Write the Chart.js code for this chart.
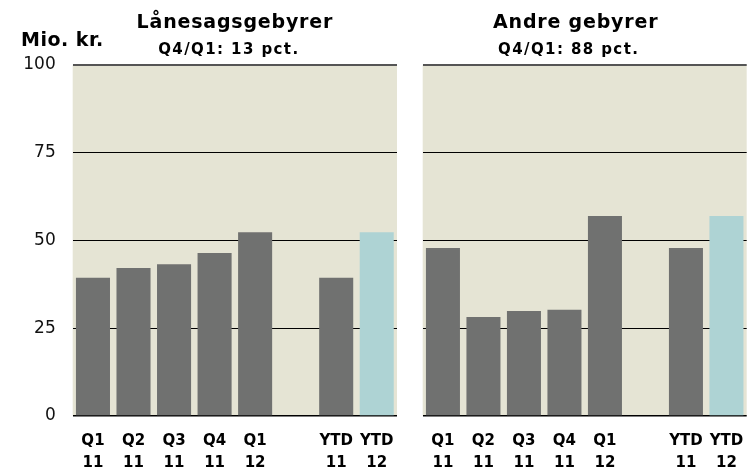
<!DOCTYPE html>
<html>
<head>
<meta charset="utf-8">
<script src="https://cdn.jsdelivr.net/npm/chart.js@4/dist/chart.umd.min.js"></script>
<style>
    body { margin: 0; background: #fff; overflow: hidden; }
    #wrap { position: relative; width: 751px; height: 472px; }
    #leftBox { position: absolute; left: 0; top: 0; }
    #rightBox { position: absolute; left: 400px; top: 0; }
    canvas { display: block; }
</style>
</head>
<body>
<div id="wrap">
    <div id="leftBox"><canvas id="leftChart" width="400" height="472"></canvas></div>
    <div id="rightBox"><canvas id="rightChart" width="351" height="472"></canvas></div>
</div>
<script>
const categories = [["Q1", "11"], ["Q2", "11"], ["Q3", "11"], ["Q4", "11"], ["Q1", "12"], "", ["YTD", "11"], ["YTD", "12"]];
const laanesagsValues = [39.3, 42.1, 43.2, 46.4, 52.3, null, 39.3, 52.3];
const andreValues = [47.8, 28.2, 29.9, 30.2, 56.9, null, 47.8, 56.9];
const yTicks = [0, 25, 50, 75, 100];
const unitLabel = "Mio. kr.";
const leftTitle = "Lånesagsgebyrer";
const leftSubtitle = "Q4/Q1: 13 pct.";
const rightTitle = "Andre gebyrer";
const rightSubtitle = "Q4/Q1: 88 pct.";

const FONT = "'DejaVu Sans', Verdana, sans-serif";
const barColours = ["#707170", "#707170", "#707170", "#707170", "#707170", "#707170", "#707170", "#aed3d4"];

// beige plot background + titles drawn around the chart area
const panelPlugin = {
    id: "panel",
    beforeDraw(chart, args, opts) {
        const { ctx, chartArea: a } = chart;
        ctx.save();
        ctx.fillStyle = "#e5e4d4";
        ctx.fillRect(a.left, a.top, a.right - a.left, a.bottom - a.top);
        ctx.restore();
    },
    afterDraw(chart, args, opts) {
        const { ctx, chartArea: a } = chart;
        const mid = (a.left + a.right) / 2;
        ctx.save();
        ctx.fillStyle = "#000";
        ctx.textBaseline = "middle";
        ctx.textAlign = "center";

        ctx.font = "bold 19px " + FONT;
        ctx.letterSpacing = "0.8px";
        ctx.fillText(opts.title, mid + opts.titleShift, 23);

        ctx.font = "bold 15px " + FONT;
        ctx.letterSpacing = "1.4px";
        ctx.fillText(opts.subtitle, mid + opts.subShift, 50);

        if (opts.unit) {
            ctx.textAlign = "left";
            ctx.font = "bold 19px " + FONT;
            ctx.letterSpacing = "0.5px";
            ctx.fillText(opts.unit, 21, 41);
        }
        ctx.restore();
    }
};

function makeChart(id, values, opts) {
    const ctx = document.getElementById(id).getContext("2d");
    return new Chart(ctx, {
        type: "bar",
        data: {
            labels: categories,
            datasets: [{
                data: values,
                backgroundColor: barColours,
                barPercentage: 0.84,
                categoryPercentage: 1
            }]
        },
        options: {
            responsive: false,
            animation: false,
            layout: { padding: { top: 64.5, right: opts.padRight, left: 0, bottom: 0 } },
            plugins: {
                legend: { display: false },
                tooltip: { enabled: false },
                panel: opts.panel
            },
            scales: {
                x: {
                    grid: { display: false },
                    border: { display: false },
                    afterFit: s => { s.height = 56; s.paddingLeft = 0; s.paddingRight = 0; },
                    ticks: {
                        color: "#000",
                        padding: 6,
                        maxRotation: 0,
                        autoSkip: false,
                        font: { family: FONT, size: 15, weight: "bold", lineHeight: "22px" }
                    }
                },
                y: {
                    min: 0,
                    max: 100,
                    afterBuildTicks: s => { s.ticks = yTicks.map(v => ({ value: v })); },
                    afterFit: s => { s.width = opts.axisWidth; },
                    border: { display: false },
                    grid: {
                        drawTicks: false,
                        color: c => c.tick.value === 100 ? "#555555" : "#000000",
                        lineWidth: c => c.tick.value === 100 ? 2 : (c.tick.value === 0 ? 1.5 : 1)
                    },
                    ticks: {
                        display: opts.showTicks,
                        color: "#111",
                        padding: 17,
                        font: { family: FONT, size: 17 }
                    }
                }
            }
        },
        plugins: [panelPlugin]
    });
}

makeChart("leftChart", laanesagsValues, {
    padRight: 3,
    axisWidth: 72.7,
    showTicks: true,
    panel: { title: leftTitle, subtitle: leftSubtitle, unit: unitLabel, titleShift: 0, subShift: -6 }
});

makeChart("rightChart", andreValues, {
    padRight: 4.3,
    axisWidth: 22.7,
    showTicks: false,
    panel: { title: rightTitle, subtitle: rightSubtitle, unit: null, titleShift: -9, subShift: -16 }
});
</script>
</body>
</html>
